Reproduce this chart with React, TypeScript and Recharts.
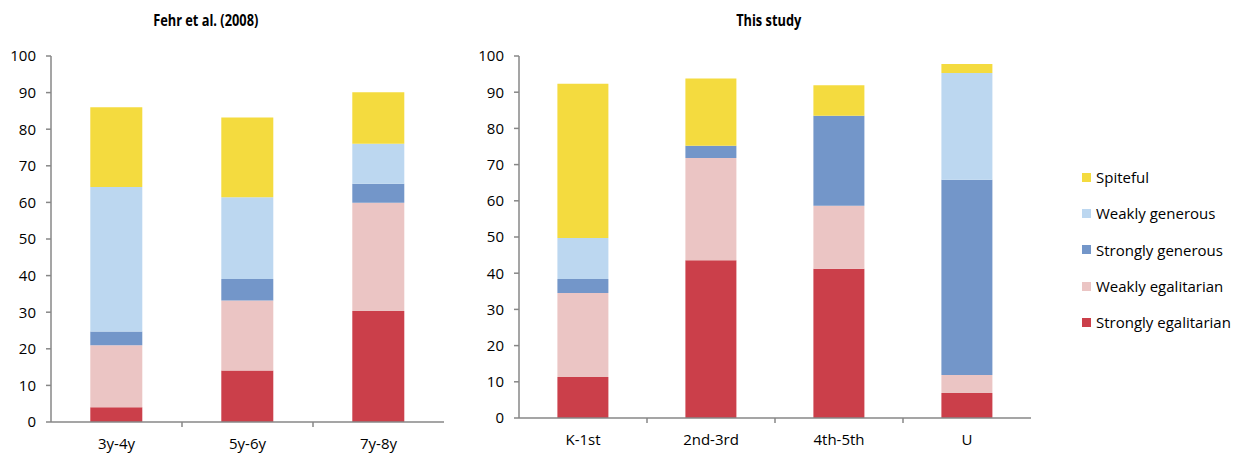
import React from "react";
import { BarChart, Bar, XAxis, YAxis } from "recharts";

// Fehr et al. (2008) age groups
const fehrGroups = ["3y-4y", "5y-6y", "7y-8y"];
const fehrStrongEgal = [4.0, 14.1, 30.3];
const fehrWeakEgal = [17.0, 19.1, 29.6];
const fehrStrongGen = [3.7, 5.9, 5.2];
const fehrWeakGen = [39.5, 22.3, 10.9];
const fehrSpiteful = [21.8, 21.8, 14.1];

// This study grade groups
const studyGroups = ["K-1st", "2nd-3rd", "4th-5th", "U"];
const studyStrongEgal = [11.3, 43.6, 41.2, 6.9];
const studyWeakEgal = [23.2, 28.2, 17.4, 5.0];
const studyStrongGen = [3.9, 3.4, 24.9, 53.9];
const studyWeakGen = [11.3, 0, 0, 29.5];
const studySpiteful = [42.6, 18.6, 8.4, 2.5];

const yTicks = [0, 10, 20, 30, 40, 50, 60, 70, 80, 90, 100];

const series = [
  { key: "strongEgal", label: "Strongly egalitarian", color: "#CB3F4A" },
  { key: "weakEgal", label: "Weakly egalitarian", color: "#EBC5C4" },
  { key: "strongGen", label: "Strongly generous", color: "#7396C9" },
  { key: "weakGen", label: "Weakly generous", color: "#BCD7F0" },
  { key: "spiteful", label: "Spiteful", color: "#F4DB3F" },
];

const AXIS = "#878787";
const FONT = "'Open Sans', 'Noto Sans', sans-serif";

function buildRows(
  groups: string[],
  se: number[],
  we: number[],
  sg: number[],
  wg: number[],
  sp: number[]
) {
  return groups.map((g, i) => ({
    group: g,
    strongEgal: se[i],
    weakEgal: we[i],
    strongGen: sg[i],
    weakGen: wg[i],
    spiteful: sp[i],
  }));
}

const fehrData = buildRows(fehrGroups, fehrStrongEgal, fehrWeakEgal, fehrStrongGen, fehrWeakGen, fehrSpiteful);
const studyData = buildRows(studyGroups, studyStrongEgal, studyWeakEgal, studyStrongGen, studyWeakGen, studySpiteful);

// x tick: label under the category, tick mark on the right boundary
function makeTick(band: number, count: number) {
  return (props: any) => {
    const { x, y, payload, index } = props;
    const axisY = y - 16;
    return (
      <g>
        {index < count - 1 && (
          <line x1={x + band / 2} x2={x + band / 2} y1={axisY} y2={axisY + 5} stroke={AXIS} strokeWidth={1.5} />
        )}
        <text x={x} y={y} dy="0.71em" textAnchor="middle" fill="#000" fontSize={15} fontFamily={FONT}>
          {payload.value}
        </text>
      </g>
    );
  };
}

function Panel(props: {
  data: any[];
  width: number;
  height: number;
  left: number;
  yWidth: number;
  marginRight: number;
  marginBottom: number;
}) {
  const { data, width, height, left, yWidth, marginRight, marginBottom } = props;
  const band = (width - yWidth - marginRight) / data.length;
  return (
    <div style={{ position: "absolute", left, top: 0 }}>
      <BarChart
        width={width}
        height={height}
        data={data}
        margin={{ top: 56, right: marginRight, bottom: marginBottom, left: 0 }}
        barCategoryGap="30%"
      >
        <XAxis
          dataKey="group"
          stroke={AXIS}
          strokeWidth={1.5}
          tickLine={false}
          tickSize={5}
          tickMargin={11}
          height={30}
          tick={makeTick(band, data.length)}
        />
        <YAxis
          domain={[0, 100]}
          ticks={yTicks}
          width={yWidth}
          stroke={AXIS}
          strokeWidth={1.5}
          tickSize={5}
          tickMargin={10}
          tick={{ fill: "#000", fontSize: 15, fontFamily: FONT }}
          interval={0}
        />
        {series.map((s) => (
          <Bar key={s.key} dataKey={s.key} stackId="a" fill={s.color} isAnimationActive={false} />
        ))}
      </BarChart>
    </div>
  );
}

function Title({ text, center }: { text: string; center: number }) {
  return (
    <div style={{ position: "absolute", left: center - 150, width: 300, top: 9, textAlign: "center" }}>
      <span
        style={{
          display: "inline-block",
          fontWeight: 700,
          fontSize: 16,
          fontFamily: FONT,
          transform: "scaleX(0.8)",
        }}
      >
        {text}
      </span>
    </div>
  );
}

export default function App() {
  return (
    <div
      style={{
        position: "absolute",
        left: 0,
        top: 0,
        width: 1248,
        height: 456,
        background: "#fff",
        fontFamily: FONT,
      }}
    >
      <Title text="Fehr et al. (2008)" center={206} />
      <Title text="This study" center={769} />
      <Panel data={fehrData} width={460} height={456} left={0} yWidth={51} marginRight={16} marginBottom={4} />
      <Panel data={studyData} width={580} height={456} left={470} yWidth={49} marginRight={19} marginBottom={8} />
      <div style={{ position: "absolute", left: 1082, top: 159 }}>
        {[...series].reverse().map((s) => (
          <div key={s.key} style={{ display: "flex", alignItems: "center", height: 36.3, fontSize: 15, color: "#000" }}>
            <span style={{ width: 9, height: 9, background: s.color, marginRight: 5, display: "inline-block" }} />
            <span>{s.label}</span>
          </div>
        ))}
      </div>
    </div>
  );
}
